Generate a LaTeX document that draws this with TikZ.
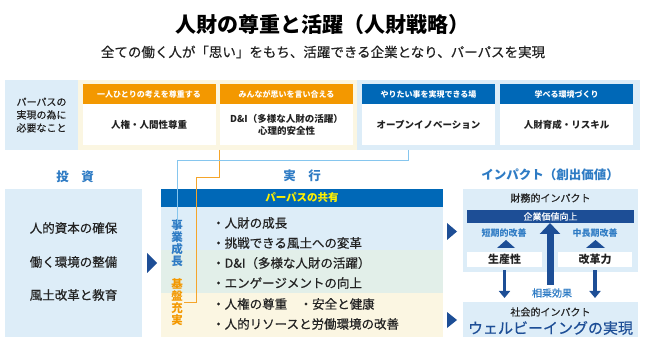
\documentclass[tikz,border=0pt]{standalone}
\usepackage{fontspec}
\setmainfont{Noto Sans CJK JP}
\newfontfamily\mediumjp{Noto Sans CJK JP}[FakeBold=0.5]
\usetikzlibrary{arrows.meta}

\definecolor{orangebar}{HTML}{F39800}
\definecolor{bluebar}{HTML}{0068B7}
\definecolor{navy}{HTML}{1D4E96}
\definecolor{midblue}{HTML}{2E7BC4}
\definecolor{lightblue}{HTML}{DDEDF8}
\definecolor{creambg}{HTML}{FBF6E2}
\definecolor{lightgreen}{HTML}{E2EFE9}
\definecolor{purpose}{HTML}{FFF100}
\definecolor{oline}{HTML}{F5A52A}
\definecolor{bline}{HTML}{86C6EE}
\definecolor{ink}{HTML}{222222}

\begin{document}
\begin{tikzpicture}[x=1pt,y=-1pt,
  panel/.style={fill=#1, inner sep=0pt, outer sep=0pt},
  hdbox/.style={fill=#1, minimum width=133pt, minimum height=20pt, inner sep=0pt,
    text=white, font=\fontsize{8}{9}\selectfont\bfseries},
  bdbox/.style={fill=white, minimum width=133pt, minimum height=41pt, inner sep=0pt,
    align=center, text=ink, font=\fontsize{9.5}{12}\selectfont\bfseries},
  sechead/.style={text=midblue, font=\fontsize{12.5}{14}\selectfont\bfseries},
  invtext/.style={text=ink, font=\fontsize{12.5}{14}\selectfont\mediumjp},
  item/.style={anchor=west, inner sep=0pt, text=ink, font=\fontsize{12.5}{14}\selectfont\mediumjp},
  vlabel/.style={align=center, inner sep=0pt, font=\fontsize{11.5}{12}\selectfont\bfseries},
  whitebox/.style={fill=white, inner sep=0pt, minimum height=15pt, text=ink,
    font=\fontsize{11}{12}\selectfont\bfseries},
  smallblue/.style={text=midblue, font=\fontsize{9}{10}\selectfont\bfseries},
  downarr/.style={navy, line width=3.5pt, -{Triangle[width=11pt,length=7pt]}},
  uparr/.style={navy, line width=7pt, -{Triangle[width=20pt,length=11pt]}}
]
\useasboundingbox (0,0) rectangle (645,347);

% タイトル
\node[text=black, font=\fontsize{21}{24}\selectfont\bfseries] (title) at (322,25) {人財の尊重と活躍（人財戦略）};
\node[text=ink, font=\fontsize{13.5}{15}\selectfont\mediumjp] (subtitle) at (323,52) {全ての働く人が「思い」をもち、活躍できる企業となり、パーパスを実現};

% パーパスの実現の為に必要なこと
\node[panel=lightblue, minimum width=73pt, minimum height=70pt] (needcell) at (41.5,115) {};
\node[align=center, text=ink, font=\fontsize{10}{13}\selectfont\mediumjp] (needtext) at (41.5,115) {パーパスの\\実現の為に\\必要なこと};
\node[panel=creambg, minimum width=279pt, minimum height=70pt] (creamback) at (217.5,115) {};
\node[panel=lightblue, minimum width=283pt, minimum height=70pt] (blueback) at (498.5,115) {};

\node[hdbox=orangebar] (h1) at (149,94) {一人ひとりの考えを尊重する};
\node[bdbox] (b1) at (149,124.5) {人権・人間性尊重};
\node[hdbox=orangebar] (h2) at (286.5,94) {みんなが思いを言い合える};
\node[bdbox] (b2) at (286.5,124.5) {D\&I（多様な人財の活躍）\\心理的安全性};
\node[hdbox=bluebar] (h3) at (428.5,94) {やりたい事を実現できる場};
\node[bdbox] (b3) at (428.5,124.5) {オープンイノベーション};
\node[hdbox=bluebar] (h4) at (566.5,94) {学べる環境づくり};
\node[bdbox] (b4) at (566.5,124.5) {人財育成・リスキル};

% 見出し
\node[sechead] (invhead) at (75,177) {投\hspace{1em}資};
\node[sechead] (acthead) at (302,176) {実\hspace{1em}行};
\node[sechead] (imphead) at (550,175) {インパクト（創出価値）};

% 投資
\node[panel=lightblue, minimum width=137pt, minimum height=148pt] (invest) at (73.5,263) {};
\node[invtext] (inv1) at (73.5,228) {人的資本の確保};
\node[invtext] (inv2) at (73.5,262) {働く環境の整備};
\node[invtext] (inv3) at (73.5,295) {風土改革と教育};
\fill[navy] (147,253) -- (157,263) -- (147,273) -- cycle;

% 実行
\node[panel=bluebar, minimum width=282pt, minimum height=18pt, text=purpose,
  font=\fontsize{10.5}{12}\selectfont\bfseries] (share) at (302,198) {パーパスの共有};
\node[panel=lightblue, minimum width=282pt, minimum height=43pt] (band1) at (302,228.5) {};
\node[panel=lightgreen, minimum width=282pt, minimum height=43pt] (band2) at (302,271.5) {};
\node[panel=creambg, minimum width=282pt, minimum height=44pt] (band3) at (302,315) {};

\node[vlabel, text=midblue] (jigyo) at (177,243.5) {事\\業\\成\\長};
\node[vlabel, text=orangebar] (kiban) at (177,302.5) {基\\盤\\充\\実};

\node[item] (it1) at (212,223) {・人財の成長};
\node[item] (it2) at (212,243) {・挑戦できる風土への変革};
\node[item] (it3) at (212,263) {・D\&I（多様な人財の活躍）};
\node[item] (it4) at (212,283) {・エンゲージメントの向上};
\node[item] (it5) at (212,304) {・人権の尊重\hspace{1em}・安全と健康};
\node[item] (it6) at (212,324) {・人的リソースと労働環境の改善};

% 接続線
\coordinate (turnO) at (196,178);
\coordinate (srcB) at (408,150);
\coordinate (turnB) at (177,161);
\draw[oline, line width=1pt] (creamback.south -| b2.west) |- (turnO) |- ([xshift=1pt]kiban.east);
\draw[bline, line width=1pt] (srcB) |- (turnB) -- ([yshift=-4pt]jigyo.north);

\fill[navy] (447,223) -- (457,231.5) -- (447,240) -- cycle;
\fill[navy] (447,312) -- (457,320) -- (447,328) -- cycle;

% インパクト
\node[panel=lightblue, minimum width=175pt, minimum height=83pt] (finbox) at (550.5,230.5) {};
\node[text=ink, font=\fontsize{10}{12}\selectfont\mediumjp] (fintitle) at (550.5,198) {財務的インパクト};
\node[panel=navy, minimum width=167pt, minimum height=13pt, text=white,
  font=\fontsize{9}{10}\selectfont\mediumjp] (worth) at (550.5,216.5) {企業価値向上};
\node[smallblue] (short) at (504,233) {短期的改善};
\node[smallblue] (long) at (595,233) {中長期改善};
\fill[navy] (497,248) -- (506,240) -- (515,248) -- cycle;
\fill[navy] (586,248) -- (595.5,240) -- (605,248) -- cycle;
\node[whitebox, minimum width=75pt] (sansei) at (504.5,259.5) {生産性};
\node[whitebox, minimum width=74pt] (kaikaku) at (595,259.5) {改革力};

\node[panel=lightblue, minimum width=175pt, minimum height=35pt] (socbox) at (550.5,319.5) {};
\node[text=ink, font=\fontsize{10}{12}\selectfont\mediumjp] (soctitle) at (550.5,312) {社会的インパクト};
\node[text=navy, font=\fontsize{15}{17}\selectfont\mediumjp] (wellbeing) at (550.5,328) {ウェルビーイングの実現};

\node[text=midblue, font=\fontsize{10}{12}\selectfont\mediumjp] (soujou) at (552,293) {相乗効果};
\draw[uparr] ([xshift=-2pt]soujou.north) -- ([xshift=-2pt]soujou.north |- worth.south);
\draw[downarr] ([yshift=-3pt]sansei.south) -- ([yshift=4pt]sansei.south |- socbox.north);
\draw[downarr] ([yshift=-3pt]kaikaku.south) -- ([yshift=4pt]kaikaku.south |- socbox.north);

\end{tikzpicture}
\end{document}
